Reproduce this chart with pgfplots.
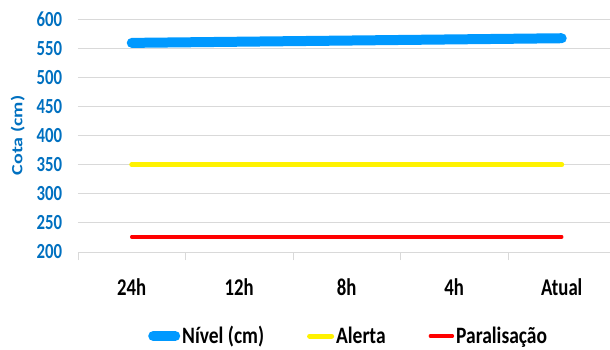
\documentclass[border=0pt]{standalone}
\usepackage{pgfplots}
\pgfplotsset{compat=1.18}
\usepackage{fontspec}
\setmainfont{Carlito}
\newfontfamily\narrow{Carlito}[FakeStretch=0.78]
\newfontfamily\legfont{Carlito}[FakeStretch=0.83]
\definecolor{nivel}{HTML}{0099FF}
\definecolor{tickblue}{HTML}{0070C0}
\definecolor{gridgray}{HTML}{D9D9D9}
\begin{document}
\begin{tikzpicture}[x=1pt,y=1pt]
\begin{axis}[
  at={(0,0)}, anchor=south west,
  scale only axis, width=532pt, height=233pt,
  xmin=-0.5, xmax=4.449, ymin=200, ymax=600,
  ytick={200,250,...,600},
  xtick={0,1,2,3,4}, xticklabels={24h,12h,8h,4h,Atual},
  major x tick style={draw=none},
  minor xtick={-0.5,0.5,1.5,2.5,3.5},
  minor x tick style={draw=gridgray, line width=0.8pt},
  minor tick length=8pt,
  axis x line*=bottom,
  axis y line*=left,
  y axis line style={draw=none},
  x axis line style={draw=gridgray, line width=0.8pt, -},
  ymajorgrids, grid style={draw=gridgray, line width=0.8pt},
  ytick style={draw=none},
  tick align=outside,
  /pgf/number format/assume math mode=true,
  yticklabel style={font=\narrow\fontsize{21.5}{21.5}\selectfont\bfseries, text=tickblue, xshift=-8pt, anchor=east},
  xticklabel style={font=\narrow\fontsize{24}{24}\selectfont\bfseries, text=black, anchor=center, yshift=-31pt},
  ylabel={\scalebox{1}[0.78]{Cota (cm)}},
  ylabel style={font=\fontsize{20}{20}\selectfont\bfseries, text=tickblue, at={(axis description cs:-0.113,0.5)}, rotate=0, anchor=center},
  legend columns=3,
  legend style={draw=none, fill=none, inner sep=0pt, at={(0.1316,0)}, anchor=west, yshift=-84pt,
    font=\legfont\fontsize{23.5}{23.5}\selectfont\bfseries,
    /tikz/every even column/.append style={column sep=41pt}},
  legend image code/.code={\draw[#1, line cap=round] (4pt,0pt) -- (26pt,0pt);},
  clip=false,
]
\addplot[nivel, line width=10pt, line cap=round] coordinates {(0,559) (1,561) (2,563) (3,565) (4,567)};
\addlegendentry{Nível (cm)}
\addplot[yellow, line width=5pt, line cap=round] coordinates {(0,350) (1,350) (2,350) (3,350) (4,350)};
\addlegendentry{Alerta}
\addplot[red, line width=3.5pt, line cap=round] coordinates {(0,226) (1,226) (2,226) (3,226) (4,226)};
\addlegendentry{Paralisação}
\end{axis}
\pgfresetboundingbox
\path[use as bounding box] (-78,-97) rectangle (532,252);
\end{tikzpicture}
\end{document}
